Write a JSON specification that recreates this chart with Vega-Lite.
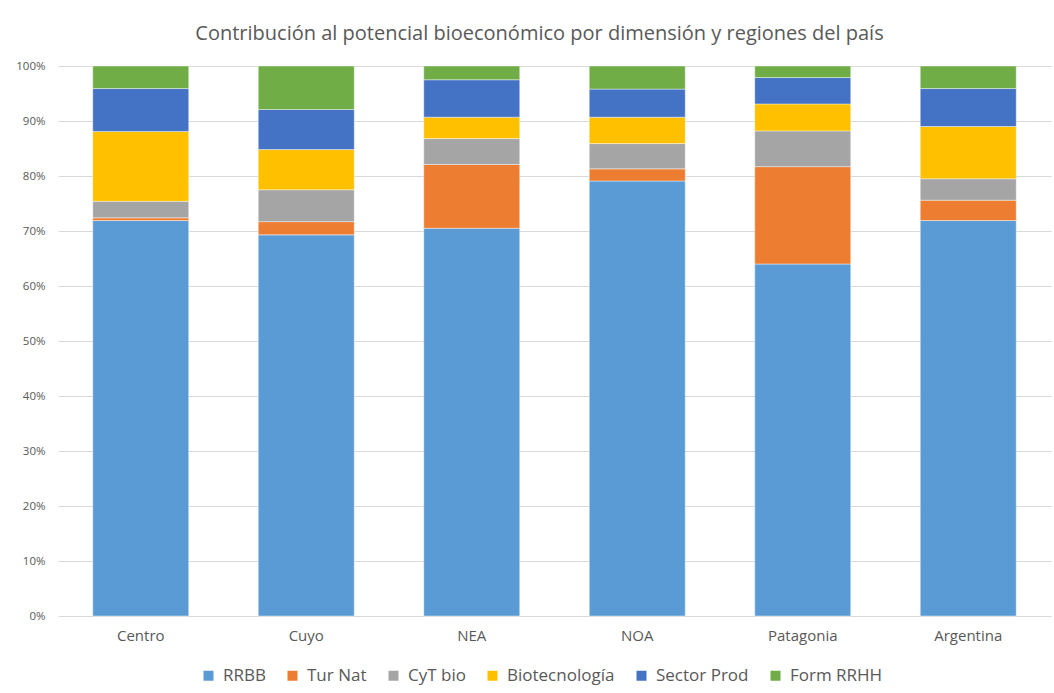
{
  "$schema": "https://vega.github.io/schema/vega-lite/v6.json",
  "width": 993,
  "height": 550,
  "autosize": {"type": "none"},
  "padding": {"left": 58, "top": 66, "right": 3, "bottom": 77},
  "background": "#ffffff",
  "config": {
    "font": "Open Sans",
    "view": {"stroke": null},
    "axis": {"labelColor": "#595959", "domain": false, "ticks": false, "gridColor": "#d9d9d9", "gridWidth": 1}
  },
  "title": {
    "text": "Contribución al potencial bioeconómico por dimensión y regiones del país",
    "fontSize": 20,
    "fontWeight": "normal",
    "color": "#595959",
    "anchor": "middle",
    "dx": -15,
    "offset": 16
  },
  "data": {
    "values": [
      {"region": "Centro", "dim": "RRBB", "k": 1, "v": 71.9},
      {"region": "Centro", "dim": "Tur Nat", "k": 2, "v": 0.5},
      {"region": "Centro", "dim": "CyT bio", "k": 3, "v": 3.0},
      {"region": "Centro", "dim": "Biotecnología", "k": 4, "v": 12.7},
      {"region": "Centro", "dim": "Sector Prod", "k": 5, "v": 7.8},
      {"region": "Centro", "dim": "Form RRHH", "k": 6, "v": 4.1},
      {"region": "Cuyo", "dim": "RRBB", "k": 1, "v": 69.3},
      {"region": "Cuyo", "dim": "Tur Nat", "k": 2, "v": 2.4},
      {"region": "Cuyo", "dim": "CyT bio", "k": 3, "v": 5.8},
      {"region": "Cuyo", "dim": "Biotecnología", "k": 4, "v": 7.3},
      {"region": "Cuyo", "dim": "Sector Prod", "k": 5, "v": 7.3},
      {"region": "Cuyo", "dim": "Form RRHH", "k": 6, "v": 7.9},
      {"region": "NEA", "dim": "RRBB", "k": 1, "v": 70.5},
      {"region": "NEA", "dim": "Tur Nat", "k": 2, "v": 11.6},
      {"region": "NEA", "dim": "CyT bio", "k": 3, "v": 4.7},
      {"region": "NEA", "dim": "Biotecnología", "k": 4, "v": 3.9},
      {"region": "NEA", "dim": "Sector Prod", "k": 5, "v": 6.8},
      {"region": "NEA", "dim": "Form RRHH", "k": 6, "v": 2.5},
      {"region": "NOA", "dim": "RRBB", "k": 1, "v": 79.1},
      {"region": "NOA", "dim": "Tur Nat", "k": 2, "v": 2.2},
      {"region": "NOA", "dim": "CyT bio", "k": 3, "v": 4.6},
      {"region": "NOA", "dim": "Biotecnología", "k": 4, "v": 4.8},
      {"region": "NOA", "dim": "Sector Prod", "k": 5, "v": 5.1},
      {"region": "NOA", "dim": "Form RRHH", "k": 6, "v": 4.2},
      {"region": "Patagonia", "dim": "RRBB", "k": 1, "v": 64.0},
      {"region": "Patagonia", "dim": "Tur Nat", "k": 2, "v": 17.7},
      {"region": "Patagonia", "dim": "CyT bio", "k": 3, "v": 6.5},
      {"region": "Patagonia", "dim": "Biotecnología", "k": 4, "v": 4.9},
      {"region": "Patagonia", "dim": "Sector Prod", "k": 5, "v": 4.8},
      {"region": "Patagonia", "dim": "Form RRHH", "k": 6, "v": 2.1},
      {"region": "Argentina", "dim": "RRBB", "k": 1, "v": 71.9},
      {"region": "Argentina", "dim": "Tur Nat", "k": 2, "v": 3.7},
      {"region": "Argentina", "dim": "CyT bio", "k": 3, "v": 3.9},
      {"region": "Argentina", "dim": "Biotecnología", "k": 4, "v": 9.5},
      {"region": "Argentina", "dim": "Sector Prod", "k": 5, "v": 6.9},
      {"region": "Argentina", "dim": "Form RRHH", "k": 6, "v": 4.1}
    ]
  },
  "layer": [
    {
      "mark": {"type": "bar", "stroke": "#ffffff", "strokeWidth": 0.6, "strokeOpacity": 0.7},
      "encoding": {
        "x": {
          "field": "region",
          "type": "nominal",
          "sort": ["Centro", "Cuyo", "NEA", "NOA", "Patagonia", "Argentina"],
          "scale": {"paddingInner": 0.42, "paddingOuter": 0.21},
          "axis": {"title": null, "labelAngle": 0, "labelFontSize": 15, "labelPadding": 12, "grid": false}
        },
        "y": {
          "field": "v",
          "type": "quantitative",
          "stack": "normalize",
          "scale": {"domain": [0, 1], "nice": false},
          "axis": {
            "title": null,
            "format": ".0%",
            "values": [0, 0.1, 0.2, 0.3, 0.4, 0.5, 0.6, 0.7, 0.8, 0.9, 1],
            "labelFontSize": 11.5,
            "labelPadding": 13,
            "grid": true
          }
        },
        "order": {"field": "k", "type": "quantitative", "sort": "ascending"},
        "color": {
          "field": "dim",
          "type": "nominal",
          "scale": {
            "domain": ["RRBB", "Tur Nat", "CyT bio", "Biotecnología", "Sector Prod", "Form RRHH"],
            "range": ["#5B9BD5", "#ED7D31", "#A5A5A5", "#FFC000", "#4472C4", "#70AD47"]
          },
          "legend": {
            "title": null,
            "orient": "none",
            "direction": "horizontal",
            "legendX": 142,
            "legendY": 601,
            "symbolType": "square",
            "symbolSize": 100,
            "symbolStrokeWidth": 0,
            "labelFontSize": 17,
            "labelColor": "#595959",
            "labelOffset": 6,
            "columnPadding": 18
          }
        }
      }
    }
  ]
}
